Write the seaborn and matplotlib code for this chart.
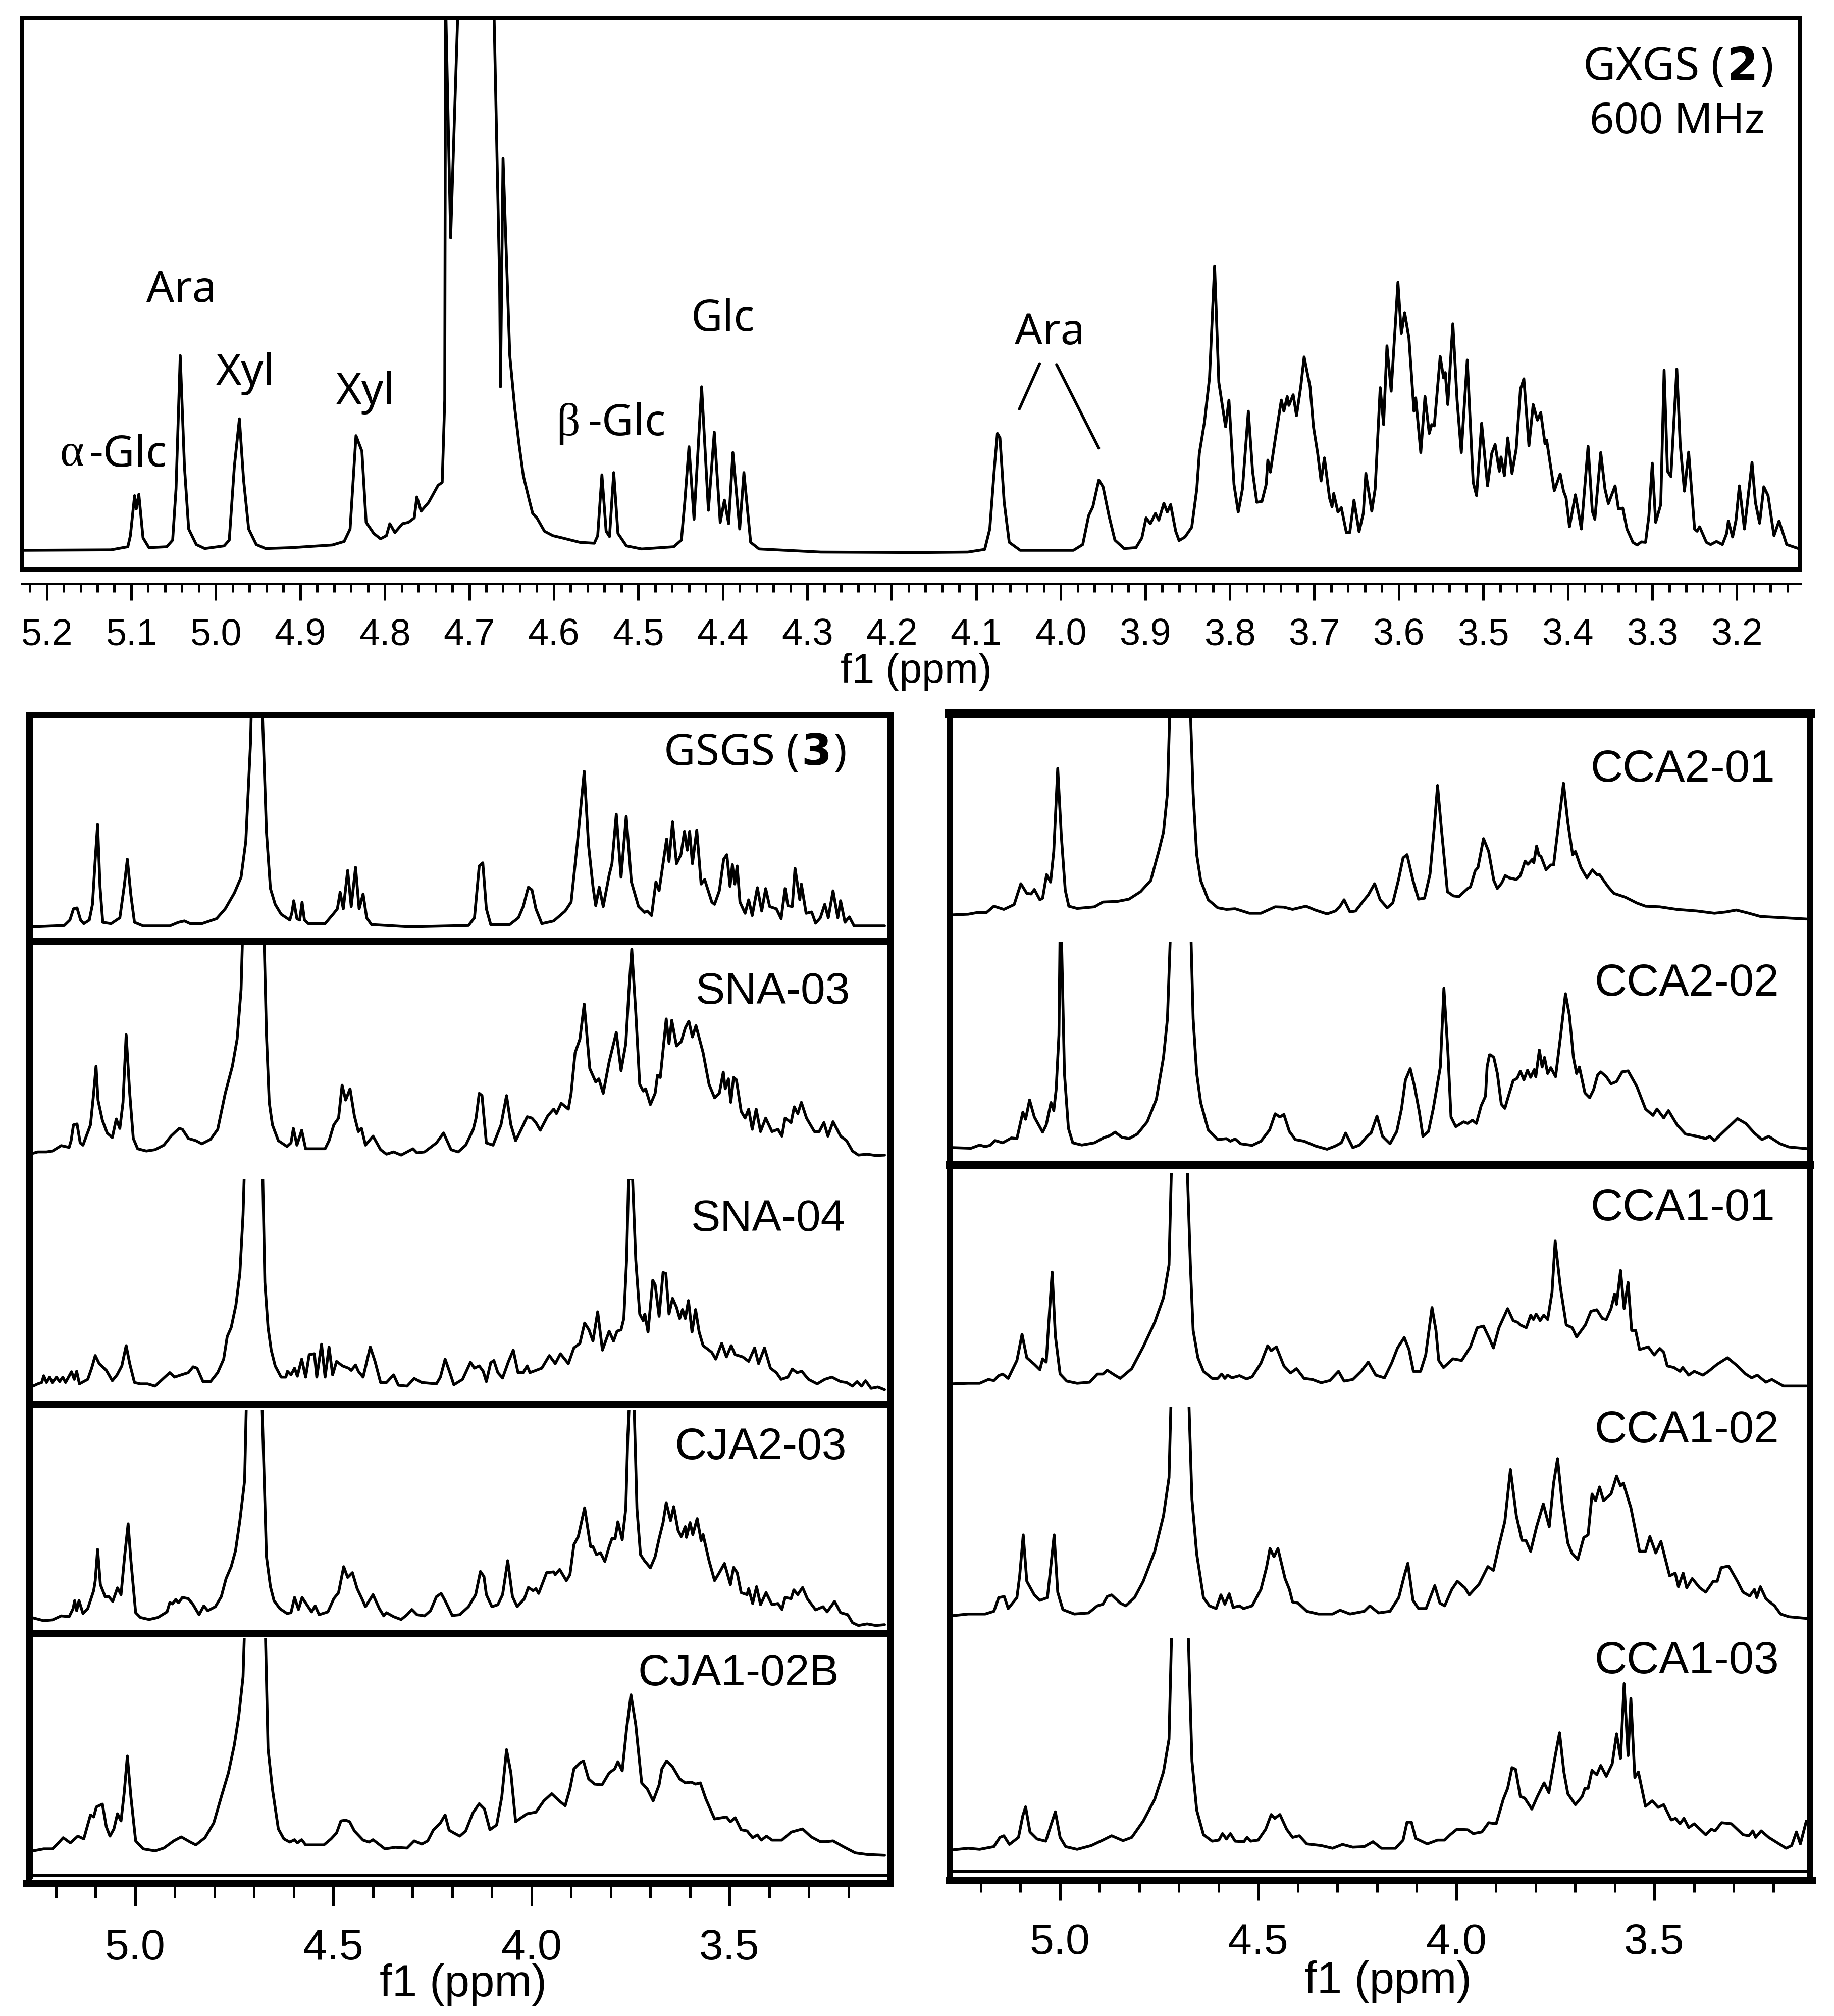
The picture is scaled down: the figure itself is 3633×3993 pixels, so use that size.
import matplotlib
matplotlib.use("Agg")
import matplotlib.pyplot as plt
from matplotlib.ticker import MultipleLocator, FormatStrFormatter
import seaborn as sns

# ---------- data: (chemical shift in ppm, signal intensity in arbitrary units) ----------
GXGS = [(5.228,0),(5.124,1),(5.104,8),(5.101,33),(5.096,123),(5.094,93),(5.091,126),(5.086,28),(5.079,6),(5.058,8),(5.051,23),(5.047,138),(5.042,438),(5.037,188),(5.032,48),(5.023,13),(5.013,4),(4.990,10),(4.984,23),(4.978,188),(4.972,296),(4.967,158),(4.961,48),(4.952,13),(4.941,4),(4.910,6),(4.862,12),(4.848,20),(4.841,48),(4.834,258),(4.827,223),(4.822,63),(4.813,38),(4.805,26),(4.798,33),(4.794,60),(4.788,40),(4.779,60),(4.772,63),(4.765,73),(4.762,120),(4.757,88),(4.748,108),(4.737,146),(4.732,153),(4.729,338),(4.728,1240),(4.722,703),(4.713,1240),(4.671,1240),(4.664,598),(4.663,368),(4.660,883),(4.652,438),(4.646,318),(4.641,238),(4.636,168),(4.629,113),(4.625,83),(4.620,73),(4.611,43),(4.601,33),(4.590,28),(4.569,18),(4.552,16),(4.548,33),(4.543,170),(4.538,43),(4.534,31),(4.529,175),(4.524,38),(4.514,10),(4.496,3),(4.458,8),(4.449,23),(4.445,108),(4.440,233),(4.434,70),(4.425,368),(4.417,90),(4.410,266),(4.403,63),(4.398,113),(4.393,60),(4.388,220),(4.380,48),(4.375,175),(4.367,18),(4.357,3),(4.284,-4),(4.168,-5),(4.110,-4),(4.090,2),(4.084,48),(4.078,198),(4.075,263),(4.072,253),(4.067,108),(4.061,18),(4.048,0),(3.985,0),(3.974,13),(3.967,78),(3.962,98),(3.955,158),(3.950,143),(3.943,78),(3.936,23),(3.925,4),(3.911,6),(3.904,28),(3.899,73),(3.894,60),(3.888,83),(3.884,68),(3.878,106),(3.874,86),(3.870,103),(3.864,43),(3.860,22),(3.853,30),(3.845,52),(3.839,138),(3.836,218),(3.830,288),(3.824,388),(3.818,640),(3.813,378),(3.805,278),(3.801,338),(3.795,148),(3.790,86),(3.785,138),(3.778,313),(3.773,178),(3.768,108),(3.762,110),(3.757,148),(3.755,203),(3.752,176),(3.746,253),(3.739,338),(3.736,313),(3.732,346),(3.730,326),(3.725,350),(3.721,303),(3.716,368),(3.712,435),(3.705,368),(3.701,278),(3.696,218),(3.692,156),(3.688,208),(3.682,118),(3.679,98),(3.677,128),(3.672,86),(3.668,96),(3.662,40),(3.658,40),(3.653,113),(3.647,42),(3.642,83),(3.639,173),(3.632,88),(3.628,138),(3.622,366),(3.618,283),(3.614,460),(3.609,358),(3.601,603),(3.597,488),(3.593,535),(3.588,478),(3.582,313),(3.580,343),(3.574,220),(3.569,346),(3.564,263),(3.561,283),(3.558,280),(3.551,436),(3.547,388),(3.545,400),(3.542,328),(3.536,510),(3.531,338),(3.526,220),(3.519,428),(3.512,153),(3.508,123),(3.502,286),(3.495,145),(3.490,218),(3.486,238),(3.481,178),(3.479,210),(3.475,168),(3.471,253),(3.466,173),(3.461,228),(3.456,363),(3.452,386),(3.446,235),(3.441,328),(3.436,293),(3.432,310),(3.427,240),(3.425,248),(3.416,134),(3.409,172),(3.405,133),(3.402,118),(3.398,53),(3.391,125),(3.384,48),(3.376,234),(3.371,88),(3.368,70),(3.361,220),(3.356,138),(3.352,105),(3.344,145),(3.340,93),(3.335,95),(3.330,48),(3.323,18),(3.318,12),(3.313,19),(3.308,18),(3.304,78),(3.300,196),(3.296,63),(3.290,103),(3.286,405),(3.282,178),(3.278,166),(3.271,408),(3.267,238),(3.262,133),(3.257,221),(3.250,48),(3.247,43),(3.244,53),(3.236,18),(3.231,13),(3.224,20),(3.217,13),(3.212,38),(3.210,66),(3.205,30),(3.201,68),(3.197,145),(3.191,48),(3.182,198),(3.178,108),(3.173,61),(3.168,143),(3.163,123),(3.156,33),(3.150,66),(3.141,13),(3.124,2)]

GSGS = [(5.258,-2),(5.179,1),(5.165,13),(5.156,38),(5.147,40),(5.138,13),(5.130,5),(5.116,13),(5.108,48),(5.101,148),(5.095,225),(5.089,88),(5.082,8),(5.061,5),(5.039,18),(5.028,88),(5.020,148),(5.011,68),(5.002,8),(4.980,0),(4.913,0),(4.891,8),(4.876,11),(4.861,5),(4.832,5),(4.795,16),(4.773,38),(4.750,73),(4.733,108),(4.721,188),(4.709,408),(4.706,520),(4.681,520),(4.669,208),(4.659,83),(4.647,48),(4.632,26),(4.610,13),(4.605,28),(4.600,56),(4.592,16),(4.585,13),(4.579,53),(4.573,13),(4.563,5),(4.521,5),(4.499,28),(4.490,38),(4.483,75),(4.475,38),(4.464,123),(4.455,43),(4.444,130),(4.435,38),(4.425,71),(4.416,18),(4.404,3),(4.307,-2),(4.159,1),(4.144,18),(4.132,133),(4.123,140),(4.114,38),(4.103,3),(4.055,3),(4.033,18),(4.021,43),(4.008,86),(3.999,80),(3.989,38),(3.974,5),(3.944,11),(3.915,33),(3.900,53),(3.885,178),(3.867,343),(3.856,178),(3.845,88),(3.838,45),(3.829,86),(3.819,43),(3.804,113),(3.797,138),(3.786,248),(3.774,108),(3.761,243),(3.748,98),(3.730,43),(3.715,30),(3.708,33),(3.697,23),(3.686,98),(3.678,78),(3.659,193),(3.653,143),(3.644,231),(3.634,138),(3.623,158),(3.614,210),(3.607,168),(3.601,210),(3.594,138),(3.583,213),(3.572,93),(3.563,103),(3.545,53),(3.538,48),(3.526,78),(3.515,148),(3.507,158),(3.499,88),(3.493,136),(3.487,93),(3.481,133),(3.474,53),(3.461,28),(3.452,58),(3.443,23),(3.430,85),(3.419,33),(3.409,83),(3.399,43),(3.382,38),(3.370,16),(3.360,83),(3.353,45),(3.342,43),(3.335,128),(3.323,58),(3.319,93),(3.307,28),(3.293,31),(3.283,6),(3.271,18),(3.260,48),(3.251,18),(3.239,78),(3.227,18),(3.220,56),(3.209,8),(3.198,20),(3.186,0),(3.109,0)]

SNA03 = [(5.258,2),(5.246,5),(5.224,5),(5.209,7),(5.187,19),(5.167,15),(5.162,30),(5.156,65),(5.147,67),(5.139,25),(5.132,20),(5.113,65),(5.105,135),(5.099,195),(5.094,120),(5.083,75),(5.071,47),(5.058,37),(5.048,78),(5.039,57),(5.031,115),(5.023,265),(5.014,135),(5.005,35),(4.994,12),(4.972,7),(4.950,10),(4.928,20),(4.910,40),(4.898,50),(4.889,57),(4.881,55),(4.866,35),(4.847,30),(4.832,23),(4.810,33),(4.792,55),(4.773,135),(4.755,195),(4.743,255),(4.733,365),(4.728,520),(4.676,520),(4.669,265),(4.662,115),(4.654,65),(4.639,30),(4.617,17),(4.607,25),(4.601,57),(4.592,20),(4.580,53),(4.570,12),(4.543,12),(4.521,12),(4.511,30),(4.499,65),(4.487,80),(4.478,153),(4.469,120),(4.458,145),(4.447,85),(4.437,50),(4.429,57),(4.419,20),(4.400,40),(4.381,10),(4.366,0),(4.348,5),(4.329,-2),(4.299,12),(4.289,3),(4.270,5),(4.240,25),(4.222,47),(4.203,10),(4.185,5),(4.166,20),(4.147,55),(4.140,80),(4.132,135),(4.125,130),(4.114,25),(4.097,20),(4.077,65),(4.063,130),(4.052,65),(4.040,30),(4.026,55),(4.011,83),(3.999,80),(3.989,70),(3.978,53),(3.959,85),(3.944,100),(3.937,90),(3.925,113),(3.907,100),(3.900,135),(3.890,225),(3.878,255),(3.867,333),(3.853,190),(3.838,160),(3.830,167),(3.819,135),(3.804,205),(3.797,230),(3.786,270),(3.774,185),(3.762,245),(3.754,365),(3.747,455),(3.737,315),(3.727,155),(3.718,140),(3.712,145),(3.700,110),(3.688,135),(3.682,175),(3.675,170),(3.660,300),(3.653,245),(3.646,297),(3.634,240),(3.622,250),(3.612,280),(3.603,295),(3.594,260),(3.585,285),(3.567,225),(3.552,155),(3.538,125),(3.526,135),(3.516,182),(3.511,145),(3.503,167),(3.497,115),(3.490,170),(3.483,165),(3.471,95),(3.461,80),(3.452,100),(3.443,55),(3.433,100),(3.422,50),(3.409,80),(3.393,50),(3.378,55),(3.368,40),(3.360,80),(3.345,70),(3.337,105),(3.328,90),(3.319,115),(3.306,80),(3.286,50),(3.274,50),(3.262,70),(3.252,40),(3.239,72),(3.220,40),(3.205,30),(3.190,7),(3.175,-2),(3.153,0),(3.131,-3),(3.109,-2)]

SNA04 = [(5.258,5),(5.246,10),(5.236,13),(5.231,28),(5.224,13),(5.216,25),(5.209,13),(5.199,25),(5.191,15),(5.183,25),(5.176,13),(5.161,37),(5.154,20),(5.148,38),(5.141,10),(5.120,20),(5.110,45),(5.101,73),(5.091,55),(5.073,40),(5.058,17),(5.046,30),(5.034,50),(5.023,95),(5.014,55),(5.002,13),(4.987,10),(4.969,10),(4.950,5),(4.928,23),(4.913,35),(4.901,25),(4.884,30),(4.866,35),(4.854,48),(4.844,45),(4.829,15),(4.810,15),(4.792,35),(4.777,65),(4.768,115),(4.758,135),(4.746,185),(4.736,255),(4.728,385),(4.724,500),(4.679,500),(4.673,235),(4.665,135),(4.657,85),(4.647,50),(4.632,25),(4.620,25),(4.616,38),(4.607,30),(4.598,45),(4.591,27),(4.580,65),(4.570,25),(4.561,75),(4.548,77),(4.542,25),(4.530,98),(4.521,25),(4.511,92),(4.502,30),(4.492,60),(4.477,50),(4.462,45),(4.455,40),(4.444,52),(4.437,38),(4.425,25),(4.407,92),(4.395,60),(4.381,13),(4.366,13),(4.348,30),(4.336,7),(4.314,5),(4.296,22),(4.277,13),(4.240,10),(4.230,25),(4.218,65),(4.206,35),(4.196,8),(4.174,20),(4.154,58),(4.144,45),(4.132,50),(4.122,38),(4.114,15),(4.103,57),(4.095,62),(4.085,35),(4.073,23),(4.058,60),(4.046,85),(4.034,35),(4.021,35),(4.011,50),(4.004,35),(3.974,45),(3.955,73),(3.940,55),(3.927,77),(3.907,55),(3.893,90),(3.878,100),(3.866,145),(3.855,130),(3.845,105),(3.833,170),(3.821,85),(3.804,127),(3.793,105),(3.784,127),(3.774,130),(3.767,155),(3.760,285),(3.755,465),(3.745,465),(3.737,285),(3.727,165),(3.718,150),(3.714,165),(3.706,125),(3.694,240),(3.688,230),(3.678,160),(3.668,257),(3.661,255),(3.653,165),(3.644,200),(3.634,180),(3.626,155),(3.619,175),(3.612,155),(3.604,195),(3.595,125),(3.586,175),(3.577,125),(3.567,95),(3.552,85),(3.545,80),(3.535,65),(3.520,100),(3.508,70),(3.496,95),(3.486,75),(3.467,70),(3.452,60),(3.437,90),(3.427,55),(3.412,90),(3.397,45),(3.382,35),(3.370,20),(3.353,25),(3.342,43),(3.330,35),(3.318,38),(3.301,20),(3.279,10),(3.260,20),(3.242,25),(3.220,15),(3.205,13),(3.190,5),(3.178,15),(3.167,5),(3.157,17),(3.143,0),(3.126,3),(3.109,-3)]

CJA203 = [(5.258,7),(5.231,0),(5.209,2),(5.187,12),(5.167,10),(5.157,30),(5.153,50),(5.148,25),(5.142,50),(5.132,18),(5.120,30),(5.105,75),(5.101,100),(5.095,178),(5.088,90),(5.076,60),(5.067,60),(5.057,48),(5.045,82),(5.036,65),(5.027,160),(5.018,242),(5.011,150),(4.999,20),(4.987,8),(4.965,3),(4.943,8),(4.920,22),(4.913,45),(4.906,42),(4.898,53),(4.891,45),(4.881,58),(4.866,55),(4.854,40),(4.839,15),(4.827,37),(4.817,25),(4.798,35),(4.783,60),(4.771,105),(4.758,135),(4.747,175),(4.736,250),(4.724,350),(4.719,570),(4.681,570),(4.669,160),(4.659,85),(4.650,50),(4.635,30),(4.617,18),(4.607,20),(4.598,58),(4.588,28),(4.579,58),(4.567,40),(4.555,22),(4.546,37),(4.536,15),(4.514,22),(4.499,55),(4.487,70),(4.474,135),(4.464,108),(4.452,120),(4.440,80),(4.428,55),(4.419,35),(4.400,65),(4.384,30),(4.373,12),(4.366,20),(4.348,10),(4.329,3),(4.314,15),(4.302,28),(4.289,15),(4.270,12),(4.255,25),(4.240,60),(4.228,68),(4.218,50),(4.200,13),(4.181,15),(4.159,35),(4.141,65),(4.129,123),(4.120,110),(4.114,65),(4.100,35),(4.085,40),(4.073,65),(4.060,150),(4.048,60),(4.036,35),(4.018,55),(4.008,83),(3.996,75),(3.989,80),(3.982,68),(3.962,120),(3.944,122),(3.940,115),(3.929,128),(3.912,100),(3.903,115),(3.893,190),(3.882,210),(3.866,282),(3.851,185),(3.845,185),(3.836,165),(3.826,170),(3.815,148),(3.804,185),(3.797,205),(3.789,205),(3.782,247),(3.771,202),(3.762,280),(3.757,460),(3.752,570),(3.742,570),(3.734,280),(3.725,165),(3.715,150),(3.700,132),(3.688,160),(3.678,205),(3.668,245),(3.660,295),(3.649,250),(3.641,285),(3.630,225),(3.622,210),(3.612,235),(3.609,208),(3.600,245),(3.593,215),(3.582,255),(3.572,200),(3.567,215),(3.552,150),(3.538,100),(3.526,120),(3.513,143),(3.505,115),(3.498,90),(3.490,133),(3.481,120),(3.471,70),(3.456,65),(3.452,80),(3.442,43),(3.432,85),(3.422,40),(3.408,70),(3.393,40),(3.378,43),(3.368,28),(3.360,58),(3.345,55),(3.338,77),(3.328,65),(3.316,83),(3.304,55),(3.283,27),(3.264,35),(3.254,22),(3.235,48),(3.220,20),(3.202,15),(3.190,-5),(3.175,-12),(3.153,-8),(3.131,-12),(3.109,-10)]

CJA102B = [(5.258,10),(5.231,15),(5.209,15),(5.194,30),(5.182,43),(5.164,30),(5.145,47),(5.130,40),(5.113,100),(5.105,95),(5.098,120),(5.083,127),(5.073,70),(5.064,47),(5.054,65),(5.045,103),(5.036,85),(5.028,155),(5.020,247),(5.011,145),(4.999,35),(4.980,15),(4.950,10),(4.928,17),(4.903,35),(4.884,45),(4.861,32),(4.847,25),(4.824,43),(4.802,80),(4.783,145),(4.765,205),(4.750,275),(4.739,345),(4.728,445),(4.724,570),(4.672,570),(4.665,265),(4.654,165),(4.639,65),(4.625,40),(4.610,32),(4.598,38),(4.591,30),(4.580,38),(4.570,25),(4.551,25),(4.524,25),(4.506,40),(4.492,55),(4.481,85),(4.469,87),(4.459,83),(4.447,60),(4.425,37),(4.410,32),(4.400,38),(4.370,15),(4.344,19),(4.314,17),(4.296,35),(4.277,27),(4.262,35),(4.248,62),(4.230,80),(4.218,100),(4.208,62),(4.196,55),(4.181,47),(4.166,60),(4.148,105),(4.132,128),(4.119,115),(4.105,63),(4.088,75),(4.075,145),(4.063,263),(4.052,205),(4.040,83),(4.026,93),(4.011,103),(3.989,107),(3.969,135),(3.949,153),(3.930,135),(3.915,123),(3.903,165),(3.893,215),(3.878,230),(3.869,235),(3.856,190),(3.841,177),(3.822,175),(3.804,205),(3.790,215),(3.782,233),(3.771,210),(3.760,315),(3.749,400),(3.737,325),(3.722,180),(3.708,165),(3.693,135),(3.678,175),(3.671,215),(3.659,235),(3.644,220),(3.626,190),(3.612,180),(3.597,182),(3.586,177),(3.574,180),(3.560,140),(3.538,90),(3.508,95),(3.498,83),(3.486,93),(3.471,63),(3.456,60),(3.442,43),(3.430,50),(3.420,37),(3.407,47),(3.393,37),(3.368,37),(3.345,57),(3.316,65),(3.294,45),(3.271,33),(3.257,33),(3.239,35),(3.212,20),(3.183,5),(3.153,1),(3.109,-1)]

CCA201 = [(5.271,3),(5.232,5),(5.210,10),(5.186,10),(5.167,30),(5.142,20),(5.116,35),(5.099,100),(5.084,70),(5.073,68),(5.065,82),(5.051,50),(5.044,55),(5.034,128),(5.024,105),(5.016,200),(5.006,458),(4.997,250),(4.987,80),(4.978,30),(4.957,23),(4.913,28),(4.892,43),(4.855,45),(4.826,52),(4.797,75),(4.771,110),(4.751,200),(4.739,260),(4.729,380),(4.723,640),(4.671,640),(4.664,380),(4.655,190),(4.645,110),(4.626,50),(4.602,25),(4.580,20),(4.558,22),(4.522,8),(4.493,8),(4.457,28),(4.435,27),(4.413,20),(4.379,30),(4.356,18),(4.326,6),(4.305,15),(4.293,30),(4.283,50),(4.268,12),(4.254,15),(4.232,50),(4.222,65),(4.206,100),(4.192,50),(4.174,25),(4.160,40),(4.145,115),(4.134,180),(4.124,190),(4.109,110),(4.095,52),(4.080,55),(4.066,130),(4.055,280),(4.047,405),(4.038,280),(4.022,75),(4.007,62),(3.993,60),(3.971,85),(3.964,90),(3.952,140),(3.945,150),(3.931,240),(3.918,200),(3.905,110),(3.896,85),(3.885,102),(3.876,125),(3.866,118),(3.848,113),(3.838,125),(3.826,170),(3.819,160),(3.808,175),(3.804,165),(3.797,217),(3.791,188),(3.786,185),(3.773,143),(3.761,158),(3.754,158),(3.742,280),(3.729,412),(3.718,290),(3.706,190),(3.699,200),(3.685,150),(3.670,118),(3.656,143),(3.645,128),(3.638,128),(3.616,90),(3.602,70),(3.573,58),(3.544,40),(3.522,30),(3.486,28),(3.443,20),(3.392,15),(3.348,8),(3.319,12),(3.293,18),(3.261,8),(3.232,-2),(3.174,-6),(3.116,-10)]

CCA202 = [(5.271,0),(5.225,-2),(5.203,8),(5.189,3),(5.177,7),(5.164,22),(5.145,15),(5.123,30),(5.109,28),(5.094,110),(5.087,88),(5.077,148),(5.065,95),(5.044,48),(5.035,70),(5.023,140),(5.016,115),(5.010,180),(5.003,350),(5.000,680),(4.997,680),(4.989,230),(4.979,60),(4.968,15),(4.945,8),(4.913,15),(4.891,30),(4.873,38),(4.861,48),(4.844,32),(4.826,28),(4.805,42),(4.780,80),(4.757,150),(4.739,280),(4.729,400),(4.721,680),(4.670,680),(4.664,400),(4.655,230),(4.645,140),(4.626,55),(4.602,25),(4.580,28),(4.570,20),(4.558,27),(4.544,12),(4.515,7),(4.493,20),(4.471,55),(4.457,105),(4.445,95),(4.435,103),(4.421,50),(4.406,25),(4.384,20),(4.355,5),(4.326,-5),(4.305,5),(4.290,15),(4.279,45),(4.261,0),(4.244,8),(4.225,35),(4.215,45),(4.200,98),(4.186,35),(4.167,12),(4.150,50),(4.138,120),(4.128,210),(4.116,245),(4.105,190),(4.093,110),(4.084,35),(4.070,50),(4.058,120),(4.040,250),(4.031,495),(4.021,300),(4.013,95),(4.001,65),(3.981,80),(3.971,75),(3.959,85),(3.949,75),(3.937,130),(3.926,160),(3.922,250),(3.916,288),(3.913,288),(3.905,280),(3.896,230),(3.886,135),(3.877,122),(3.868,160),(3.856,208),(3.846,215),(3.838,237),(3.829,210),(3.820,240),(3.812,218),(3.803,242),(3.799,220),(3.790,303),(3.783,250),(3.777,280),(3.769,230),(3.761,248),(3.749,220),(3.737,340),(3.724,478),(3.714,410),(3.704,280),(3.696,230),(3.689,250),(3.675,170),(3.663,155),(3.653,180),(3.643,225),(3.635,235),(3.621,220),(3.609,198),(3.595,205),(3.581,235),(3.566,238),(3.544,190),(3.522,120),(3.503,100),(3.493,120),(3.476,92),(3.464,115),(3.442,70),(3.421,42),(3.392,35),(3.370,28),(3.360,35),(3.348,22),(3.326,48),(3.290,90),(3.269,75),(3.247,45),(3.228,25),(3.211,35),(3.182,12),(3.160,2),(3.116,-3)]

CCA101 = [(5.271,0),(5.232,1),(5.203,1),(5.181,8),(5.167,6),(5.155,15),(5.145,18),(5.131,10),(5.109,43),(5.096,91),(5.084,48),(5.065,36),(5.051,26),(5.044,46),(5.035,40),(5.029,108),(5.020,205),(5.012,88),(5.000,18),(4.983,5),(4.957,1),(4.925,3),(4.906,18),(4.892,18),(4.881,25),(4.862,16),(4.848,10),(4.819,28),(4.790,68),(4.761,113),(4.739,158),(4.725,218),(4.718,420),(4.680,420),(4.671,218),(4.664,98),(4.652,48),(4.638,23),(4.616,10),(4.602,10),(4.592,18),(4.584,10),(4.577,16),(4.566,11),(4.547,15),(4.529,9),(4.515,13),(4.493,38),(4.476,70),(4.467,61),(4.454,68),(4.435,33),(4.418,20),(4.403,28),(4.384,10),(4.363,8),(4.341,2),(4.319,6),(4.297,23),(4.283,5),(4.261,8),(4.240,23),(4.222,40),(4.203,16),(4.181,11),(4.163,38),(4.148,66),(4.131,85),(4.119,63),(4.108,23),(4.090,23),(4.077,53),(4.061,140),(4.051,98),(4.044,43),(4.032,30),(4.008,46),(3.986,43),(3.964,68),(3.947,103),(3.931,106),(3.916,83),(3.906,66),(3.892,103),(3.870,138),(3.856,116),(3.845,113),(3.838,108),(3.823,103),(3.812,126),(3.805,118),(3.798,128),(3.788,116),(3.779,126),(3.769,118),(3.758,168),(3.750,262),(3.737,178),(3.722,108),(3.707,103),(3.696,86),(3.674,108),(3.660,133),(3.645,136),(3.631,120),(3.621,118),(3.609,138),(3.600,165),(3.595,146),(3.585,208),(3.576,138),(3.566,186),(3.557,98),(3.547,98),(3.537,63),(3.515,68),(3.500,53),(3.486,65),(3.476,58),(3.467,33),(3.450,30),(3.435,23),(3.428,30),(3.413,16),(3.399,23),(3.377,16),(3.363,23),(3.341,36),(3.315,48),(3.290,33),(3.269,18),(3.254,11),(3.240,16),(3.218,3),(3.203,8),(3.174,-4),(3.116,-4)]

CCA102 = [(5.271,0),(5.232,3),(5.189,3),(5.167,8),(5.155,33),(5.141,35),(5.131,13),(5.109,33),(5.102,73),(5.093,148),(5.084,63),(5.065,38),(5.051,28),(5.032,33),(5.023,93),(5.015,148),(5.006,43),(4.993,11),(4.964,3),(4.928,5),(4.906,18),(4.892,21),(4.881,35),(4.870,38),(4.848,23),(4.834,18),(4.812,33),(4.790,63),(4.761,118),(4.739,183),(4.725,253),(4.719,420),(4.676,420),(4.667,213),(4.655,113),(4.638,33),(4.623,18),(4.606,13),(4.594,38),(4.584,21),(4.573,40),(4.563,15),(4.547,18),(4.537,13),(4.515,18),(4.493,48),(4.479,88),(4.470,123),(4.460,108),(4.450,123),(4.432,68),(4.421,48),(4.413,25),(4.399,23),(4.377,8),(4.348,3),(4.312,3),(4.293,10),(4.268,3),(4.232,8),(4.218,18),(4.196,5),(4.167,8),(4.145,33),(4.131,73),(4.122,96),(4.109,28),(4.095,13),(4.076,13),(4.063,38),(4.054,55),(4.041,23),(4.029,18),(4.011,48),(3.997,63),(3.978,51),(3.967,38),(3.942,58),(3.920,90),(3.906,83),(3.892,128),(3.877,173),(3.863,268),(3.848,183),(3.834,138),(3.824,138),(3.812,118),(3.797,163),(3.780,205),(3.765,163),(3.754,243),(3.744,288),(3.732,203),(3.718,133),(3.708,115),(3.693,103),(3.678,143),(3.667,148),(3.657,223),(3.648,211),(3.638,236),(3.628,211),(3.609,223),(3.595,256),(3.585,238),(3.578,243),(3.559,198),(3.537,118),(3.522,118),(3.511,145),(3.496,115),(3.483,136),(3.461,73),(3.447,78),(3.439,53),(3.427,78),(3.418,51),(3.404,68),(3.385,51),(3.370,43),(3.351,63),(3.341,63),(3.331,88),(3.312,91),(3.290,63),(3.276,43),(3.259,36),(3.247,48),(3.241,33),(3.232,53),(3.218,31),(3.196,18),(3.181,3),(3.160,-2),(3.116,-5)]

CCA103 = [(5.271,-1),(5.232,2),(5.203,0),(5.167,5),(5.152,22),(5.142,25),(5.128,9),(5.105,22),(5.094,62),(5.087,78),(5.076,32),(5.058,19),(5.036,15),(5.022,47),(5.012,69),(5.000,22),(4.986,5),(4.957,0),(4.921,7),(4.892,17),(4.870,25),(4.841,16),(4.819,22),(4.790,52),(4.761,92),(4.739,142),(4.725,202),(4.718,410),(4.677,410),(4.667,162),(4.655,72),(4.638,27),(4.616,15),(4.599,17),(4.590,29),(4.580,19),(4.570,29),(4.558,15),(4.536,14),(4.528,22),(4.519,15),(4.500,17),(4.481,37),(4.467,64),(4.458,57),(4.445,64),(4.428,37),(4.413,22),(4.396,25),(4.377,10),(4.341,7),(4.312,2),(4.287,9),(4.261,4),(4.232,5),(4.210,14),(4.189,2),(4.153,2),(4.134,17),(4.124,50),(4.113,50),(4.102,20),(4.073,10),(4.047,17),(4.029,17),(4.015,27),(3.998,37),(3.971,36),(3.957,29),(3.935,32),(3.918,49),(3.899,47),(3.881,92),(3.870,112),(3.859,150),(3.850,147),(3.838,97),(3.827,94),(3.809,74),(3.795,97),(3.778,122),(3.766,104),(3.751,167),(3.739,214),(3.728,142),(3.718,102),(3.699,82),(3.682,97),(3.675,112),(3.667,112),(3.657,145),(3.645,137),(3.635,154),(3.621,134),(3.606,157),(3.595,212),(3.585,167),(3.576,304),(3.566,172),(3.559,277),(3.549,132),(3.540,142),(3.522,79),(3.505,89),(3.490,77),(3.476,82),(3.457,54),(3.446,57),(3.435,47),(3.425,57),(3.413,40),(3.399,47),(3.370,27),(3.356,37),(3.346,34),(3.330,49),(3.305,47),(3.276,27),(3.261,25),(3.251,34),(3.244,22),(3.230,34),(3.211,22),(3.189,12),(3.167,2),(3.153,7),(3.141,32),(3.131,10),(3.116,52)]

PANELS = {"GXGS": GXGS, "GSGS": GSGS, "SNA03": SNA03, "SNA04": SNA04, "CJA203": CJA203, "CJA102B": CJA102B,
          "CCA201": CCA201, "CCA202": CCA202, "CCA101": CCA101, "CCA102": CCA102, "CCA103": CCA103}

# ---------- layout ----------
W, H, DPI = 3633, 3993, 100
PT = 72 / DPI
LW = 4.0
sns.set_theme(style="white", rc={"axes.facecolor": "none"})
plt.rcParams["font.family"] = ["Liberation Sans", "DejaVu Sans"]

fig = plt.figure(figsize=(W / DPI, H / DPI), dpi=DPI, facecolor="white")


def axes_px(l, t, r, b, **kw):
    return fig.add_axes([l / W, 1 - b / H, (r - l) / W, (b - t) / H], **kw)


def spectrum(name, box, xlim, baseline, scale):
    l, t, r, b = box
    ax = axes_px(l, t, r, b)
    xs = [p[0] for p in PANELS[name]]
    ys = [p[1] for p in PANELS[name]]
    sns.lineplot(x=xs, y=ys, estimator=None, color="black", linewidth=LW, ax=ax)
    ax.set_xlim(*xlim)
    ax.set_ylim(-(b - baseline) * scale, (baseline - t) * scale)
    ax.axis("off")
    return ax


def frame(box, lw=12, top=None, bottom=None):
    l, t, r, b = box
    ax = axes_px(l, t, r, b)
    ax.set_xticks([]); ax.set_yticks([])
    ax.patch.set_alpha(0)
    ax.set_zorder(5)
    for k, s in ax.spines.items():
        s.set_visible(True); s.set_color("black"); s.set_linewidth(lw * PT)
    if top: ax.spines["top"].set_linewidth(top * PT)
    if bottom: ax.spines["bottom"].set_linewidth(bottom * PT)
    return ax


def tick_axis(l, r, y, xlim, major, minor, lw, mj, mn, size, pad, width):
    ax = axes_px(l, y, r, y + 1)
    ax.set_xlim(*xlim)
    ax.set_yticks([])
    ax.patch.set_alpha(0)
    for k in ("left", "right", "bottom"):
        ax.spines[k].set_visible(False)
    ax.spines["top"].set_linewidth(lw * PT); ax.spines["top"].set_color("black")
    ax.xaxis.set_major_locator(MultipleLocator(major))
    ax.xaxis.set_minor_locator(MultipleLocator(minor))
    ax.xaxis.set_major_formatter(FormatStrFormatter("%.1f"))
    ax.tick_params(axis="x", which="major", bottom=True, length=mj * PT, width=width * PT, labelsize=size, pad=pad * PT, color="black", labelcolor="black")
    ax.tick_params(axis="x", which="minor", bottom=True, length=mn * PT, width=width * PT, color="black")
    for t in ax.get_xticklabels():
        t.set_fontfamily("Liberation Sans")
    return ax


def txt(x, y, s, ha="center", size=60, family="Liberation Sans", **kw):
    return fig.text(x / W, 1 - y / H, s, ha=ha, va="baseline", fontsize=size, family=family, color="black", zorder=10, **kw)


def bold_label(right, base, head, num, size):
    """Right-aligned 'head (num)' with the number in bold, three real text pieces."""
    rend = fig.canvas.get_renderer()
    x = right
    close = txt(x, base, ")", ha="right", family="Noto Sans", size=size)
    x -= close.get_window_extent(rend).width + 4
    n = txt(x, base, num, ha="right", family="DejaVu Sans", size=size, fontweight="bold")
    x -= n.get_window_extent(rend).width + 4
    txt(x, base, head + " (", ha="right", family="Noto Sans", size=size)


# top panel
TOP_XLIM = (5.229, 3.125)
top_ax = spectrum("GXGS", (44, 35, 3566, 1128), TOP_XLIM, 1090, 1.136)
frame((44, 35, 3566, 1128), lw=8)
tick_axis(44, 3566, 1156, TOP_XLIM, 0.1, 0.02, 5, 32, 16, 53, 34, 5)
sns.lineplot(x=[4.025, 4.049], y=[420, 318], estimator=None, color="black", linewidth=LW, ax=top_ax)
sns.lineplot(x=[4.005, 3.955], y=[418, 230], estimator=None, color="black", linewidth=LW, ax=top_ax)
top_ax.set_xlim(*TOP_XLIM)

SERIF = "Liberation Serif"
LABEL = "Noto Sans"
for x, y, s in [(360, 598, "Ara"), (486, 762, "Xyl"), (724, 800, "Xyl"), (1432, 655, "Glc"), (2080, 682, "Ara")]:
    txt(x, y, s, family=LABEL, size=62)
txt(166, 922, "\u03b1", ha="right", family=SERIF, size=66)
txt(176, 924, "-Glc", ha="left", family=LABEL, size=62)
txt(1149, 862, "\u03b2", ha="right", family=SERIF, size=66)
txt(1164, 862, "-Glc", ha="left", family=LABEL, size=62)
bold_label(3513, 158, "GXGS", "2", 64)
txt(3496, 264, "600 MHz", ha="right", family=LABEL, size=61)
txt(1815, 1352, "f1 (ppm)", size=58)

# left column
LX = (5.2675, 3.094)
L = 58; R = 1764
spectrum("GSGS", (L, 1422, R, 1864), LX, 1834, 1.12)
spectrum("SNA03", (L, 1870, R, 2335), LX, 2286, 1.12)
spectrum("SNA04", (L, 2335, R, 2782), LX, 2750, 1.12)
spectrum("CJA203", (L, 2792, R, 3235), LX, 3210, 1.2615)
spectrum("CJA102B", (L, 3245, R, 3715), LX, 3674, 1.2615)
frame((L, 1416, R, 1864), lw=13)
frame((L, 1864, R, 2782), lw=13)
frame((L, 2782, R, 3235), lw=14)
frame((L, 3235, R, 3715), lw=14, bottom=6)
frame((L, 3715, R, 3731), lw=12, top=1, bottom=14)
tick_axis(52, 1758, 3731, (5.0 + (268 - 52) / 785, 3.5 - (1758 - 1445) / 785), 0.5, 0.1, 14, 43, 27, 62, 44, 5)
bold_label(1677, 1515, "GSGS", "3", 62)
txt(1683, 1988, "SNA-03", ha="right", size=63)
txt(1674, 2438, "SNA-04", ha="right", size=63)
txt(1677, 2890, "CJA2-03", ha="right", size=63)
txt(1662, 3338, "CJA1-02B", ha="right", size=63)
txt(917, 3954, "f1 (ppm)", size=64)

# right column
RX = (5.279, 3.106)
L2 = 1881; R2 = 3586
spectrum("CCA201", (L2, 1423, R2, 1865), RX, 1814, 1.568)
spectrum("CCA202", (L2, 1865, R2, 2299), RX, 2273, 1.568)
spectrum("CCA101", (L2, 2324, R2, 2786), RX, 2741, 0.926)
spectrum("CCA102", (L2, 2786, R2, 3245), RX, 3200, 0.926)
spectrum("CCA103", (L2, 3245, R2, 3707), RX, 3663, 0.926)
frame((L2, 1413, R2, 2307), lw=12, top=19, bottom=16)
frame((L2, 2307, R2, 3707), lw=12, top=16, bottom=6)
frame((L2, 3707, R2, 3725), lw=12, top=1, bottom=14)
tick_axis(1884, 3590, 3725, (5.0 + (2100 - 1884) / 785, 3.5 - (3590 - 3277) / 785), 0.5, 0.1, 14, 38, 22, 62, 44, 5)
txt(3516, 1548, "CCA2-01", ha="right", size=64)
txt(3524, 1972, "CCA2-02", ha="right", size=64)
txt(3516, 2417, "CCA1-01", ha="right", size=64)
txt(3524, 2857, "CCA1-02", ha="right", size=64)
txt(3524, 3314, "CCA1-03", ha="right", size=64)
txt(2749, 3948, "f1 (ppm)", size=64)

fig.savefig("out.png", dpi=DPI, facecolor="white")
